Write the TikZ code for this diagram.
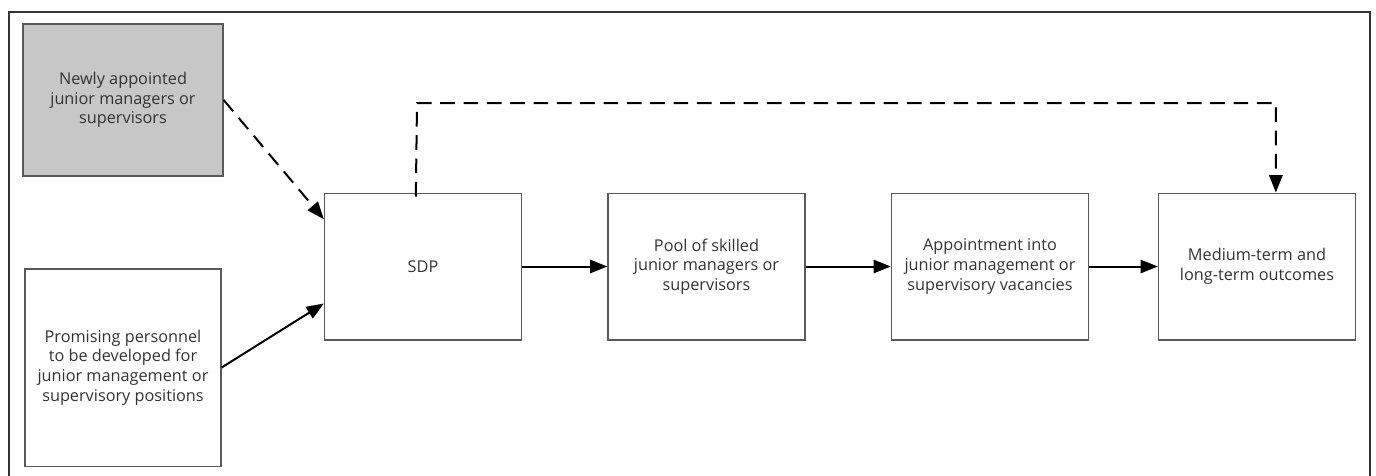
\documentclass[tikz,border=0pt]{standalone}
\usepackage{fontspec}
\setmainfont{Open Sans}
\usetikzlibrary{arrows.meta,calc,positioning}

\begin{document}
\begin{tikzpicture}
[x=0.75pt,y=-0.75pt,font=\fontsize{12.2}{14.8}\selectfont,
box/.style={draw=black!65,line width=1pt,text=black!80,align=center,
  minimum width=147.75pt,minimum height=110pt,inner sep=0pt},
edge/.style={black,line width=1.5pt,-{Triangle[length=13pt,width=10pt]}},
dashedge/.style={edge,dash pattern=on 11pt off 6.5pt}]
%%%%%%%%%%

\def \rowY {266.5}

\useasboundingbox (0,0) rectangle (1376,475);
\draw[black!80,line width=1.4pt] (9,476) -- (9,12) -- (1370,12) -- (1370,476);

\node[box,fill=black!22,minimum width=150pt,minimum height=114pt] (newly) at (123,100) {Newly appointed\\junior managers or\\supervisors};
\node[box,minimum width=147pt,minimum height=148pt] (prom) at (123,367.5) {Promising personnel\\to be developed for\\junior management or\\supervisory positions};

\node[box] (sdp) at (423,\rowY) {SDP};
\node[box] (pool) at (706.5,\rowY) {Pool of skilled\\junior managers or\\supervisors};
\node[box] (appt) at (990,\rowY) {Appointment into\\junior management or\\supervisory vacancies};
\node[box] (outc) at (1257,\rowY) {Medium-term and\\long-term outcomes};

\draw[dashedge] (newly.east) -- ($(sdp.north west)!0.18!(sdp.south west)$);
\draw[edge] (prom.east) -- ($(sdp.north west)!0.75!(sdp.south west)$);

\draw[edge] (sdp) -- (pool);
\draw[edge] (pool) -- (appt);
\draw[edge] (appt) -- (outc);

\coordinate (top) at (417,103);
\draw[dashedge] ($(sdp.north west)+(92,4)$) -- (top) -| ($(outc.north west)+(118,0)$);
\end{tikzpicture}
\end{document}
